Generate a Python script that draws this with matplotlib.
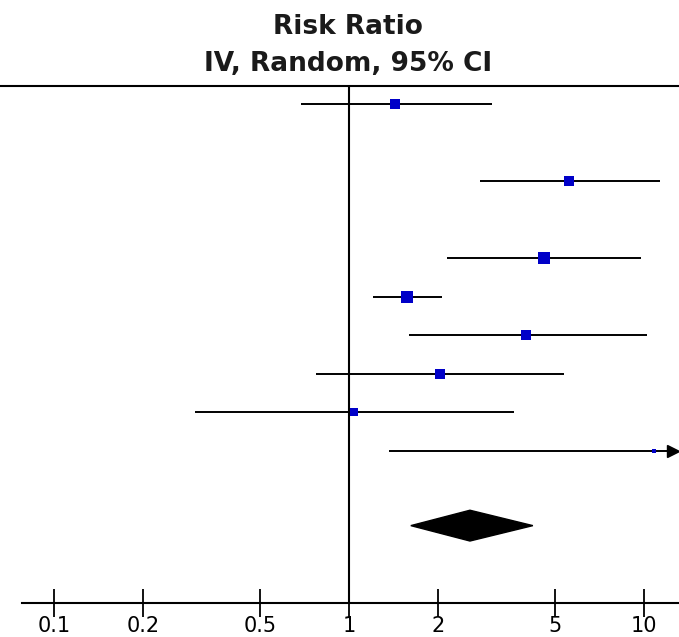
import numpy as np
import matplotlib
matplotlib.use('Agg')
import matplotlib.pyplot as plt

# Study estimates (risk ratio with 95% CI)
rr = [1.43, 5.57, 4.58, 1.57, 3.98, 2.03, 1.04, 10.8]
ci_lo = [0.69, 2.78, 2.15, 1.21, 1.60, 0.77, 0.30, 1.37]
ci_hi = [3.05, 11.3, 9.77, 2.07, 10.2, 5.35, 3.63, 40.0]
weights = [12.0, 10.5, 13.0, 16.0, 10.5, 10.5, 5.5, 2.5]
rows = [0, 2, 4, 5, 6, 7, 8, 9]

# Pooled estimate
pooled = 2.57
pooled_lo = 1.62
pooled_hi = 4.20
pooled_row = 10.95

tick_vals = [0.1, 0.2, 0.5, 1, 2, 5, 10]
tick_labels = ['0.1', '0.2', '0.5', '1', '2', '5', '10']

XMIN, XMAX = 0.0656, 13.14

fig = plt.figure(figsize=(6.79, 6.37), dpi=100)
ax = fig.add_axes([0, 34 / 637, 1, 517 / 637])
ax.set_xscale('log')
ax.set_xlim(XMIN, XMAX)
ax.set_ylim(12.96, -0.47)

# confidence intervals + squares
for r, lo, hi, est, w in zip(rows, ci_lo, ci_hi, rr, weights):
    right = min(hi, 12.2)
    ax.plot([lo, right], [r, r], color='black', lw=1.4, solid_capstyle='butt', zorder=2)
    if hi > XMAX:
        ax.plot([12.55], [r], marker='>', color='black', markersize=9, zorder=3,
                clip_on=False)
    ms = 2.2 * np.sqrt(w)
    ax.plot([est], [r], marker='s', color='#0000c8', markersize=ms,
            markeredgewidth=0, zorder=4)

# pooled diamond
ax.fill([pooled_lo, pooled, pooled_hi, pooled],
        [pooled_row, pooled_row - 0.4, pooled_row, pooled_row + 0.4],
        color='black', zorder=3)

# line of no effect
ax.axvline(1, color='black', lw=1.5, zorder=1)

for s in ['left', 'right']:
    ax.spines[s].set_visible(False)
ax.spines['top'].set_linewidth(1.5)
ax.spines['bottom'].set_linewidth(1.5)
ax.spines['bottom'].set_bounds(0.078, XMAX)

ax.set_yticks([])
ax.set_xticks(tick_vals)
ax.set_xticklabels(tick_labels)
ax.xaxis.set_minor_locator(matplotlib.ticker.NullLocator())
ax.tick_params(axis='x', direction='inout', length=20, width=1.3, pad=-1,
               labelsize=15, labelcolor='black', color='black')

fig.text(348 / 679, 1 - 34 / 637, 'Risk Ratio', ha='center', va='baseline',
         fontsize=19, fontweight='bold', color='#1a1a1a')
fig.text(348 / 679, 1 - 71 / 637, 'IV, Random, 95% CI', ha='center', va='baseline',
         fontsize=19, fontweight='bold', color='#1a1a1a')

plt.savefig('out.png', dpi=100)
